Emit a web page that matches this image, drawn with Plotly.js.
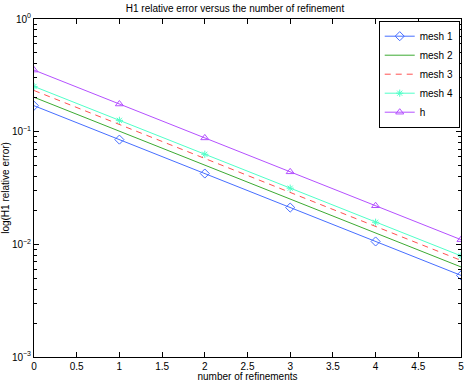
<!DOCTYPE html>
<html>
<head>
<meta charset="utf-8">
<script src="https://cdn.plot.ly/plotly-3.0.1.min.js"></script>
<style>
  html, body { margin: 0; padding: 0; background: #fff; }
  #chart { width: 470px; height: 382px; }
</style>
</head>
<body>
<div id="chart"></div>
<script>
// refinement levels and H1 relative errors
var refinements = [0, 1, 2, 3, 4, 5];
var mesh1 = [0.170, 0.085, 0.0425, 0.0212, 0.0106, 0.0053];
var mesh2 = [0.202, 0.101, 0.0505, 0.0252, 0.0126, 0.0063];
var mesh3 = [0.232, 0.116, 0.058, 0.029, 0.0145, 0.0072];
var mesh4 = [0.252, 0.126, 0.063, 0.0315, 0.0157, 0.0079];
var hvals = [0.352, 0.176, 0.088, 0.044, 0.022, 0.0110];

// log axis ticks
var decadeVals = [0.001, 0.01, 0.1, 1];
var decadeText = ['10<sup>\u22123</sup>', '10<sup>\u22122</sup>', '10<sup>\u22121</sup>', '10<sup>0</sup>'];

var minorVals = [];
[0.001, 0.01, 0.1].forEach(function (d) {
    for (var k = 2; k <= 9; k++) minorVals.push(d * k);
});

var traces = [
    {
        x: refinements, y: mesh1, name: 'mesh 1', mode: 'lines+markers',
        line: {color: 'rgb(70,110,255)', width: 1},
        marker: {symbol: 'diamond-open', size: 7, color: 'rgb(70,110,255)', line: {width: 1}}
    },
    {
        x: refinements, y: mesh2, name: 'mesh 2', mode: 'lines',
        line: {color: 'rgb(60,170,50)', width: 1}
    },
    {
        x: refinements, y: mesh3, name: 'mesh 3', mode: 'lines',
        line: {color: 'rgb(255,80,80)', width: 1, dash: '6px,5px'}
    },
    {
        x: refinements, y: mesh4, name: 'mesh 4', mode: 'lines+markers',
        line: {color: 'rgb(80,255,200)', width: 1},
        marker: {symbol: 'asterisk-open', size: 6, color: 'rgb(80,255,200)', line: {width: 1, color: 'rgb(80,255,200)'}}
    },
    {
        x: refinements, y: hvals, name: 'h', mode: 'lines+markers',
        line: {color: 'rgb(180,80,255)', width: 1},
        marker: {symbol: 'triangle-up-open', size: 7, color: 'rgb(180,80,255)', line: {width: 1}}
    }
];

var layout = {
    width: 470,
    height: 382,
    margin: {l: 34, r: 9, t: 19, b: 25},
    paper_bgcolor: '#fff',
    plot_bgcolor: '#fff',
    font: {family: 'Liberation Sans, Arial, sans-serif', size: 10, color: '#000'},
    title: {
        text: 'H1 relative error versus the number of refinement',
        font: {size: 10},
        x: 0.5, xanchor: 'center', y: 0.978, yanchor: 'middle'
    },
    showlegend: true,
    legend: {
        x: 0.997, xanchor: 'right', y: 0.995, yanchor: 'top',
        bordercolor: '#000', borderwidth: 1, bgcolor: '#fff',
        font: {size: 10},
        itemwidth: 30,
        tracegroupgap: 0
    },
    xaxis: {
        range: [0, 5],
        dtick: 0.5,
        showgrid: false,
        zeroline: false,
        showline: true,
        linecolor: '#000',
        linewidth: 1,
        mirror: 'ticks',
        ticks: 'inside',
        ticklen: 5,
        tickcolor: '#000',
        title: {text: 'number of refinements', font: {size: 10}, standoff: 2}
    },
    yaxis: {
        type: 'log',
        range: [-3, 0],
        tickvals: decadeVals,
        ticktext: decadeText,
        showgrid: false,
        zeroline: false,
        showline: true,
        linecolor: '#000',
        linewidth: 1,
        mirror: 'ticks',
        ticks: 'inside',
        ticklen: 5,
        tickcolor: '#000',
        minor: {tickvals: minorVals, ticks: 'inside', ticklen: 3, tickcolor: '#000', showgrid: false},
        title: {text: 'log(H1 relative error)', font: {size: 10}, standoff: 2}
    }
};

Plotly.newPlot('chart', traces, layout, {displayModeBar: false, staticPlot: true});
</script>
</body>
</html>
